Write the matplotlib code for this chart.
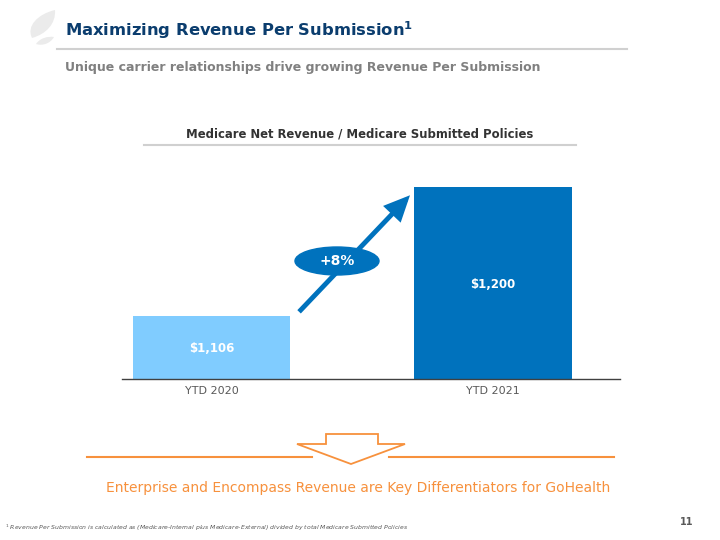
import numpy as np
import matplotlib
matplotlib.use('Agg')
import matplotlib.pyplot as plt
from matplotlib.patches import Ellipse, Polygon, FancyArrowPatch, PathPatch
from matplotlib.path import Path
from matplotlib.lines import Line2D

# data
categories = ['YTD 2020', 'YTD 2021']
values = [1106, 1200]
value_labels = ['$1,106', '$1,200']
bar_colors = ['#80CCFF', '#0072BD']
change_label = '+8%'

W, H = 720, 540

def fx(x):
	return x / W

def fy(y):
	return 1 - y / H

fig = plt.figure(figsize=(7.2, 5.4), dpi=100)
fig.patch.set_facecolor('white')

# leaf logo (top-left)
def leaf(pts):
	verts = [(fx(a), fy(b)) for a, b in pts]
	codes = [Path.MOVETO, Path.CURVE4, Path.CURVE4, Path.CURVE4, Path.CURVE4, Path.CURVE4, Path.CURVE4]
	return PathPatch(Path(verts, codes), facecolor='#EBEBEB', edgecolor='none', transform=fig.transFigure)

fig.patches.append(leaf([(32, 38), (26, 26), (38, 14), (55, 10), (56, 24), (46, 34), (32, 38)]))
fig.patches.append(leaf([(36, 44), (40, 38), (48, 36), (54, 37), (50, 44), (42, 46), (36, 44)]))

# header
fig.text(fx(65), fy(30), 'Maximizing Revenue Per Submission$^{\\mathbf{1}}$', color='#0B3D6E',
	fontsize=11.8, fontweight='bold', va='center', ha='left')
fig.add_artist(Line2D([fx(57), fx(627)], [fy(49), fy(49)], color='#D0D0D0', lw=1.5))
fig.text(fx(65), fy(68), 'Unique carrier relationships drive growing Revenue Per Submission', color='#808080',
	fontsize=9, fontweight='bold', va='center', ha='left')

# chart title
fig.text(fx(360), fy(134), 'Medicare Net Revenue / Medicare Submitted Policies', color='#333333',
	fontsize=8.35, fontweight='bold', va='center', ha='center')
fig.add_artist(Line2D([fx(144), fx(576)], [fy(145), fy(145)], color='#D0D0D0', lw=1.5))

# bar chart
ax = fig.add_axes([fx(122), fy(379), (620 - 122) / W, (379 - 150) / H])
x = np.arange(len(categories))
ax.bar(x, values, width=0.558, color=bar_colors, zorder=1)
ax.set_xlim(-0.318, 1.451)
ax.set_ylim(1060, 1227)
for s in ['top', 'right', 'left']:
	ax.spines[s].set_visible(False)
ax.spines['bottom'].set_color('#404040')
ax.spines['bottom'].set_linewidth(1)
ax.set_yticks([])
ax.set_xticks(x)
ax.set_xticklabels(categories, color='#595959', fontsize=8)
ax.tick_params(axis='x', length=0, pad=5)

label_y = [1082, 1129]
for i in range(len(values)):
	ax.text(x[i], label_y[i], value_labels[i], color='white', fontsize=8.5, fontweight='bold',
		ha='center', va='center')

# growth arrow
arr = FancyArrowPatch((0.311, 1109), (0.705, 1194), transform=ax.transData,
	arrowstyle='-|>,head_length=13,head_width=6', color='#0072BD', lw=3.5,
	shrinkA=0, shrinkB=0, mutation_scale=1, zorder=4, clip_on=False, joinstyle='miter', capstyle='butt')
ax.add_patch(arr)
ell = Ellipse((fx(337), fy(261)), 84 / W, 28 / H, color='#0072BD', transform=fig.transFigure, zorder=5)
fig.patches.append(ell)
fig.text(fx(337), fy(261), change_label, color='white', fontsize=10, fontweight='bold',
	ha='center', va='center', zorder=6)

# orange down arrow and lines
orange = '#F7913D'
fig.add_artist(Line2D([fx(87), fx(312)], [fy(456.5), fy(456.5)], color=orange, lw=1.5))
fig.add_artist(Line2D([fx(389), fx(614)], [fy(456.5), fy(456.5)], color=orange, lw=1.5))
pts = [(326, 434), (378, 434), (378, 444), (405, 444), (351, 464), (297, 444), (326, 444)]
arrow = Polygon([(fx(a), fy(b)) for a, b in pts], closed=True, fill=False, edgecolor=orange, lw=1.3,
	transform=fig.transFigure)
fig.patches.append(arrow)

fig.text(fx(358), fy(488), 'Enterprise and Encompass Revenue are Key Differentiators for GoHealth', color=orange,
	fontsize=10, ha='center', va='center')

# footnote and page number
fig.text(fx(5), fy(528), '$^{1}$ Revenue Per Submission is calculated as (Medicare-Internal plus Medicare-External) divided by total Medicare Submitted Policies',
	color='#595959', fontsize=4.4, style='italic', ha='left', va='center')
fig.text(fx(693), fy(522), '11', color='#595959', fontsize=7, fontweight='bold', ha='right', va='center')

fig.savefig('out.png', dpi=100)
